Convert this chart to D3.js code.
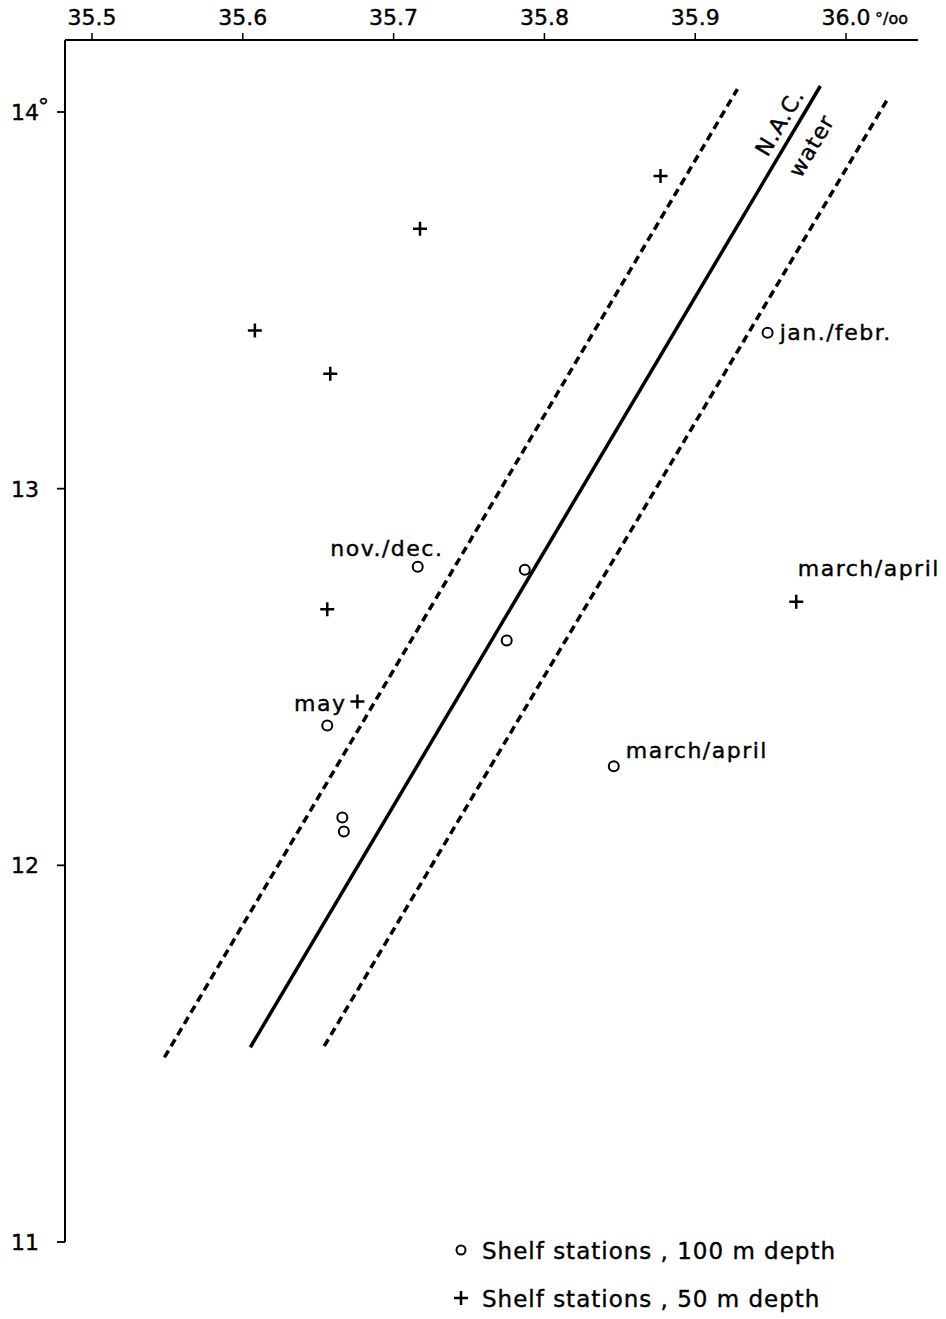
<!DOCTYPE html>
<html>
<head>
<meta charset="utf-8">
<script src="https://cdn.jsdelivr.net/npm/d3@7"></script>
<style>
  body { margin: 0; background: #fff; }
  svg text { font-family: "DejaVu Sans", sans-serif; fill: #000; stroke: #000; stroke-width: 0.4px; }
</style>
</head>
<body>
<svg width="946" height="1319"></svg>
<script>
// salinity (x) and temperature (y) ticks
const salTicks = [35.5, 35.6, 35.7, 35.8, 35.9, 36.0];
const tempTicks = [11, 12, 13, 14];

// shelf stations, 100 m depth (circles)
const deepSal  = [35.948, 35.716, 35.787, 35.775, 35.656, 35.666, 35.667, 35.846];
const deepTemp = [13.414, 12.793, 12.785, 12.597, 12.371, 12.127, 12.090, 12.263];

// shelf stations, 50 m depth (plus signs)
const shallowSal  = [35.877, 35.7175, 35.608, 35.658, 35.656, 35.676, 35.967];
const shallowTemp = [13.83, 13.69, 13.42, 13.305, 12.68, 12.435, 12.70];

// N.A.C. water lines: [start, end]
const nacSal   = [35.605, 35.983];
const nacTemp  = [11.517, 14.069];
const lowSal   = [35.548, 35.928];
const lowTemp  = [11.49, 14.061];
const highSal  = [35.654, 36.028];
const highTemp = [11.52, 14.037];

// season labels
const noteText = ["jan./febr.", "nov./dec.", "march/april", "may", "march/april"];
const noteSal  = [35.956, 35.658, 35.968, 35.634, 35.854];
const noteTemp = [13.395, 12.82, 12.767, 12.41, 12.284];

// N.A.C. / water label centres
const nacLabel = ["N.A.C.", "water"];
const nacLabelSal  = [35.956, 35.977];
const nacLabelTemp = [13.973, 13.91];

const svg = d3.select("svg");

const x = d3.scaleLinear().domain([35.5, 36.0]).range([92, 846]);
const y = d3.scaleLinear().domain([11, 14]).range([1242, 112]);

const axisTop = 40, axisLeft = 65;

// x axis on top
svg.append("line")
  .attr("x1", axisLeft).attr("x2", 918)
  .attr("y1", axisTop).attr("y2", axisTop)
  .attr("stroke", "#000").attr("stroke-width", 2);

svg.selectAll(".xtick").data(salTicks).enter().append("line")
  .attr("x1", d => x(d)).attr("x2", d => x(d))
  .attr("y1", axisTop).attr("y2", axisTop - 7)
  .attr("stroke", "#000").attr("stroke-width", 1.5);

svg.selectAll(".xlab").data(salTicks).enter().append("text")
  .attr("x", d => x(d))
  .attr("y", 25)
  .attr("font-size", "22px")
  .attr("text-anchor", "middle")
  .text(d => d.toFixed(1));

svg.append("text")
  .attr("x", 875)
  .attr("y", 24)
  .attr("font-size", "16px")
  .text("°/oo");

// y axis on left
svg.append("line")
  .attr("x1", axisLeft).attr("x2", axisLeft)
  .attr("y1", axisTop).attr("y2", y(11))
  .attr("stroke", "#000").attr("stroke-width", 2);

svg.selectAll(".ytick").data(tempTicks).enter().append("line")
  .attr("x1", axisLeft - 8).attr("x2", axisLeft)
  .attr("y1", d => y(d)).attr("y2", d => y(d))
  .attr("stroke", "#000").attr("stroke-width", 1.8);

svg.selectAll(".ylab").data(tempTicks).enter().append("text")
  .attr("x", 25)
  .attr("y", d => y(d) + 8)
  .attr("font-size", "22px")
  .attr("text-anchor", "middle")
  .text(d => d);

svg.append("text")
  .attr("x", 38)
  .attr("y", y(14) + 2)
  .attr("font-size", "22px")
  .text("°");

// water lines
const line = d3.line().x(d => x(d[0])).y(d => y(d[1]));

function drawLine(sal, temp, dashed) {
  svg.append("path")
    .attr("d", line(d3.zip(sal, temp)))
    .attr("fill", "none")
    .attr("stroke", "#000")
    .attr("stroke-width", 3.5)
    .attr("stroke-dasharray", dashed ? "8,5" : null);
}
drawLine(lowSal, lowTemp, true);
drawLine(nacSal, nacTemp, false);
drawLine(highSal, highTemp, true);

// N.A.C. / water label, rotated along the solid line
const ang = Math.atan2(y(nacTemp[1]) - y(nacTemp[0]), x(nacSal[1]) - x(nacSal[0])) * 180 / Math.PI;
svg.selectAll(".nac").data(d3.zip(nacLabel, nacLabelSal, nacLabelTemp)).enter().append("text")
  .attr("transform", d => `translate(${x(d[1])},${y(d[2])}) rotate(${ang})`)
  .attr("font-size", "22px")
  .attr("letter-spacing", "1px")
  .attr("text-anchor", "middle")
  .attr("dy", "0.35em")
  .text(d => d[0]);

// circles (100 m)
svg.selectAll(".deep").data(d3.zip(deepSal, deepTemp)).enter().append("circle")
  .attr("cx", d => x(d[0]))
  .attr("cy", d => y(d[1]))
  .attr("r", 5)
  .attr("fill", "none")
  .attr("stroke", "#000")
  .attr("stroke-width", 2);

// plus signs (50 m)
svg.selectAll(".shallow").data(d3.zip(shallowSal, shallowTemp)).enter().append("path")
  .attr("d", d => `M${x(d[0]) - 7},${y(d[1])}h14M${x(d[0])},${y(d[1]) - 7}v14`)
  .attr("stroke", "#000")
  .attr("stroke-width", 2.5);

// season labels
svg.selectAll(".note").data(d3.zip(noteText, noteSal, noteTemp)).enter().append("text")
  .attr("x", d => x(d[1]))
  .attr("y", d => y(d[2]))
  .attr("font-size", "22px")
  .attr("letter-spacing", "1.5px")
  .text(d => d[0]);

// legend
const legend = svg.append("g").attr("transform", "translate(461, 1250)");
legend.append("circle")
  .attr("r", 4.5)
  .attr("fill", "none")
  .attr("stroke", "#000")
  .attr("stroke-width", 2);
legend.append("text")
  .attr("x", 21).attr("y", 9)
  .attr("font-size", "23px")
  .attr("letter-spacing", "1px")
  .text("Shelf stations , 100 m depth");
legend.append("path")
  .attr("d", "M-7,48h14M0,41v14")
  .attr("stroke", "#000")
  .attr("stroke-width", 2.5);
legend.append("text")
  .attr("x", 21).attr("y", 57)
  .attr("font-size", "23px")
  .attr("letter-spacing", "1px")
  .text("Shelf stations ,  50 m depth");
</script>
</body>
</html>
